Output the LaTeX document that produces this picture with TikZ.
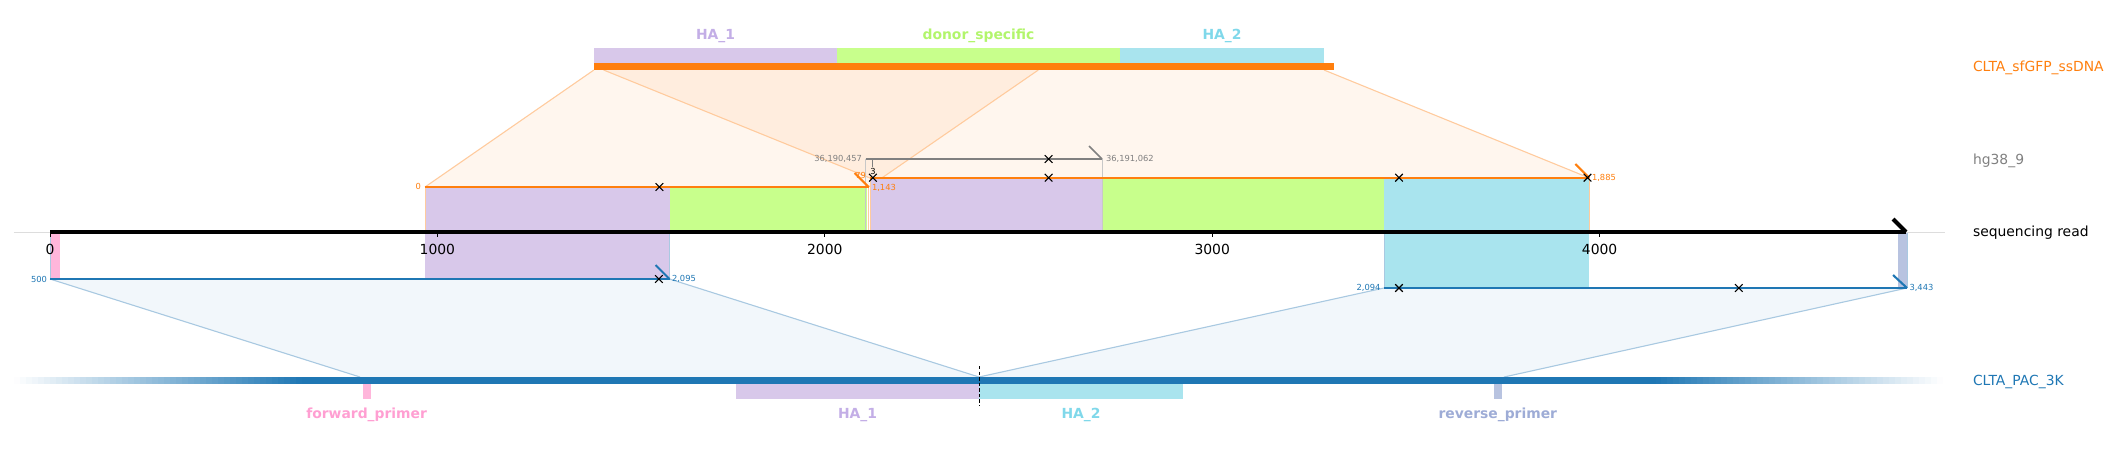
\documentclass[tikz,border=0pt]{standalone}
\usepackage{fontspec}
\setmainfont{DejaVu Sans}
\usetikzlibrary{shapes.misc}
\definecolor{cOrange}{HTML}{FF7F0E}
\definecolor{cBlue}{HTML}{1F77B4}
\definecolor{cGray}{HTML}{808080}
\definecolor{cHaOne}{HTML}{D8C8EA}
\definecolor{cHaOneTxt}{HTML}{C3AEE6}
\definecolor{cDonor}{HTML}{C8FF8C}
\definecolor{cDonorTxt}{HTML}{B2F56C}
\definecolor{cHaTwo}{HTML}{A9E4EE}
\definecolor{cHaTwoTxt}{HTML}{80D8EA}
\definecolor{cFwd}{HTML}{FFB6DB}
\definecolor{cFwdTxt}{HTML}{FF9FD2}
\definecolor{cRev}{HTML}{B8C3E0}
\definecolor{cRevTxt}{HTML}{9EACD6}
\definecolor{cOrangeEdge}{HTML}{FFCB9E}
\definecolor{cBlueEdge}{HTML}{A9C9E1}
\definecolor{cSpine}{HTML}{DDDDDD}
\definecolor{cProjG}{HTML}{C8C8C8}
\begin{document}
\begin{tikzpicture}[x=0.72pt,y=-0.72pt,
  every node/.style={inner sep=0pt, outer sep=0pt},
  biglbl/.style={font=\fontsize{10}{12}\selectfont},
  featlbl/.style={font=\fontsize{10}{12}\selectfont\bfseries, anchor=base},
  smalllbl/.style={font=\fontsize{6}{7}\selectfont},
  xmark/.style={draw=black, cross out, minimum size=5.5pt, line width=0.8pt},
  alnO/.style={draw=cOrange, line width=1.5pt},
  alnB/.style={draw=cBlue, line width=1.5pt},
  alnG/.style={draw=cGray, line width=1.2pt},
  edgeO/.style={draw=cOrangeEdge, line width=0.8pt},
  edgeB/.style={draw=cBlueEdge, line width=0.8pt},
  projO/.style={draw=cOrangeEdge, line width=0.6pt},
  projG/.style={draw=cProjG, line width=0.6pt},
  projB/.style={draw=cBlueEdge, line width=0.6pt},
  tickmark/.style={draw=black, line width=0.6pt}
]
\useasboundingbox (0,0) rectangle (2115,448);

% ---- key coordinates ----
\coordinate (ax0) at (50,232);
\coordinate (ax1) at (1906,232);
\coordinate (spL) at (13.5,232);
\coordinate (spR) at (1945,232);
\coordinate (o1a) at (425,187);
\coordinate (o1b) at (868.7,187);
\coordinate (o2a) at (870,178);
\coordinate (o2b) at (1589.3,178);
\coordinate (g1a) at (865.5,159);
\coordinate (g1b) at (1102,159);
\coordinate (b1a) at (50,279);
\coordinate (b1b) at (669.5,279);
\coordinate (b2a) at (1384,288);
\coordinate (b2b) at (1907,288);
\coordinate (s1a) at (593.9,70);
\coordinate (s1b) at (1038.3,70);
\coordinate (s2a) at (603.6,70);
\coordinate (s2b) at (1324,70);
\coordinate (p3a) at (360,377);
\coordinate (pmid) at (979,377);
\coordinate (p4b) at (1504,377);

% ---- mapping polygons ----
\fill[cOrange, opacity=0.07] (s1a) -- (s1b) -- (o1b) -- (o1a) -- cycle;
\fill[cOrange, opacity=0.07] (s2a) -- (s2b) -- (o2b) -- (o2a) -- cycle;
\draw[edgeO] (s1a) -- (o1a);
\draw[edgeO] (s1b) -- (o1b);
\draw[edgeO] (s2a) -- (o2a);
\draw[edgeO] (s2b) -- (o2b);
\fill[cBlue, opacity=0.06] (b1a) -- (b1b) -- (pmid) -- (p3a) -- cycle;
\fill[cBlue, opacity=0.06] (b2a) -- (b2b) -- (p4b) -- (pmid) -- cycle;
\draw[edgeB] (b1a) -- (p3a);
\draw[edgeB] (b1b) -- (pmid);
\draw[edgeB] (b2a) -- (pmid);
\draw[edgeB] (b2b) -- (p4b);

% ---- ssDNA ----
\fill[cHaOne] (593.9,48) rectangle (837.2,63);
\fill[cDonor] (837.2,48) rectangle (1119.9,63);
\fill[cHaTwo] (1119.9,48) rectangle (1324,63);
\fill[cOrange] (593.9,63) rectangle (1334.2,70);
\node[featlbl, text=cHaOneTxt] (tHaOne) at (715.5,39.3) {HA\_1};
\node[featlbl, text=cDonorTxt] (tDonor) at (978.5,39.3) {donor\_specific};
\node[featlbl, text=cHaTwoTxt] (tHaTwo) at (1222,39.3) {HA\_2};

% ---- projected feature blocks ----
\fill[cHaOne] (425,187) rectangle (669.5,279);
\fill[cDonor] (669.5,187) rectangle (867,232);
\fill[cHaOne] (870,178) rectangle (1102,232);
\fill[cDonor] (1102,178) rectangle (1384,232);
\fill[cHaTwo] (1384,178) rectangle (1589.3,288);
\fill[cFwd] (50,232) rectangle (59.5,279);
\fill[cRev] (1898,232) rectangle (1907,288);

% ---- projection edges ----
\draw[projO] (o1a) -- (o1a |- ax0);
\draw[projO] (o1b) -- (o1b |- ax0);
\draw[projO] (o2a) -- (o2a |- ax0);
\draw[projO] (o2b) -- (o2b |- ax0);
\draw[projG] (g1a) -- (g1a |- ax0);
\draw[projG] (g1b) -- (g1b |- ax0);
\draw[projB] (b1a) -- (b1a |- ax0);
\draw[projB] (b1b) -- (b1b |- ax0);
\draw[projB] (b2a) -- (b2a |- ax0);
\draw[projB] (b2b) -- (b2b |- ax0);

% ---- read axis ----
\draw[cSpine, line width=0.7pt] (spL) -- (spR);
\draw[black, line width=2.9pt] (ax0) -- (ax1);
\draw[black, line width=2.9pt] (ax1) -- ++(-13,-13);
\foreach \tx/\tl in {50/0, 437.4/1000, 824.8/2000, 1212.2/3000, 1599.6/4000}{
  \draw[tickmark] (\tx,233) -- (\tx,237);
  \node[biglbl, anchor=base] at (\tx,254) {\tl};
}

% ---- alignment lines ----
\draw[alnO] (o1a) -- (o1b);
\draw[alnO] (o1b) -- ++(-14,-14);
\draw[alnO] (o2a) -- (o2b);
\draw[alnO] (o2b) -- ++(-14,-14);
\draw[alnG] (g1a) -- (g1b);
\draw[alnG] (g1b) -- ++(-13,-13);
\draw[cGray, line width=0.9pt] (872.5,159.5) -- (872.5,167);
\draw[alnB] (b1a) -- (b1b);
\draw[alnB] (b1b) -- ++(-14,-14);
\draw[alnB] (b2a) -- (b2b);
\draw[alnB] (b2b) -- ++(-14,-13);

% ---- mismatch marks ----
\node[xmark] (x1) at (659.4,187) {};
\node[xmark] (x2) at (872.9,177.7) {};
\node[xmark] (x3) at (1048.6,177.7) {};
\node[xmark] (x4) at (1399,177.7) {};
\node[xmark] (x5) at (1587.5,177.7) {};
\node[xmark] (x6) at (1048.6,159) {};
\node[xmark] (x7) at (658.9,279) {};
\node[xmark] (x8) at (1399,288) {};
\node[xmark] (x9) at (1738.8,288) {};

% ---- small coordinate labels ----
\node[smalllbl, text=cOrange, anchor=east] (l0) at (421,186.5) {0};
\node[smalllbl, text=cOrange, anchor=west] (l1143) at (872,187.5) {1,143};
\node[smalllbl, text=cOrange, anchor=east] (l79) at (866,175.5) {79};
\node[smalllbl, text=cOrange, anchor=west] (l1885) at (1592,178) {1,885};
\node[smalllbl, text=cGray, anchor=east] (lg0) at (862,159) {36,190,457};
\node[smalllbl, text=cGray, anchor=west] (lg1) at (1106,159) {36,191,062};
\node[smalllbl, text=black] (lins) at (873,171) {3};
\node[smalllbl, text=cBlue, anchor=east] (l500) at (47,279) {500};
\node[smalllbl, text=cBlue, anchor=west] (l2095) at (672,279) {2,095};
\node[smalllbl, text=cBlue, anchor=east] (l2094) at (1380.5,288) {2,094};
\node[smalllbl, text=cBlue, anchor=west] (l3443) at (1909.5,288) {3,443};

% ---- plasmid ----
\foreach \i in {0,...,47}{
  \pgfmathsetmacro{\xa}{13.5+\i*6}
  \pgfmathsetmacro{\xb}{\xa+6.3}
  \pgfmathsetmacro{\pc}{(\i+0.5)/48*100}
  \pgfmathsetmacro{\xc}{1943-\i*6}
  \pgfmathsetmacro{\xd}{\xc-6.3}
  \fill[cBlue!\pc!white] (\xa,377) rectangle (\xb,384);
  \fill[cBlue!\pc!white] (\xd,377) rectangle (\xc,384);
}
\fill[cBlue] (301.5,377) rectangle (1655.5,384);
\fill[cFwd] (362.5,384) rectangle (370.7,399);
\fill[cHaOne] (736,384) rectangle (979,399);
\fill[cHaTwo] (979,384) rectangle (1183,399);
\fill[cRev] (1493.5,384) rectangle (1502,399);
\draw[black, line width=0.6pt, dash pattern=on 2.5pt off 1.5pt] (979,366) -- (979,405);
\node[featlbl, text=cFwdTxt] (tFwd) at (366.6,418.3) {forward\_primer};
\node[featlbl, text=cHaOneTxt] (tHaOneB) at (857.5,418.3) {HA\_1};
\node[featlbl, text=cHaTwoTxt] (tHaTwoB) at (1081,418.3) {HA\_2};
\node[featlbl, text=cRevTxt] (tRev) at (1497.8,418.3) {reverse\_primer};

% ---- track names ----
\node[biglbl, text=cOrange, anchor=base west] (nSs) at (1973,71) {CLTA\_sfGFP\_ssDNA};
\node[biglbl, text=cGray, anchor=base west] (nHg) at (1973,164) {hg38\_9};
\node[biglbl, text=black, anchor=base west] (nRead) at (1973,236.7) {sequencing read};
\node[biglbl, text=cBlue, anchor=base west] (nPac) at (1973,385) {CLTA\_PAC\_3K};
\end{tikzpicture}
\end{document}
